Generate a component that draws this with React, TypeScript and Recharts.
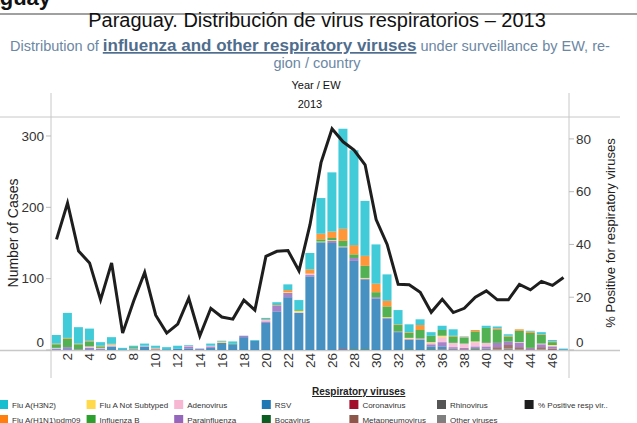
import { ComposedChart, XAxis, YAxis, Bar, Line } from "recharts"

// epidemiological weeks 1..47 of 2013
const weeks = Array.from({ length: 47 }, (_, i) => i + 1)

// cases per week, by virus
const h3n2 = [12, 35, 23, 17, 5, 9, 2, 2, 3, 3, 3, 4, 1, 0, 3, 1, 3, 0, 1, 2, 4, 8, 14, 23, 50, 83, 140, 133, 77, 55, 37, 20, 11, 8, 5, 6, 9, 1, 0, 3, 3, 2, 0, 1, 3, 2, 1]
const h1n1 = [1, 1, 1, 1, 1, 0, 0, 0, 0, 1, 0, 0, 0, 0, 0, 1, 0, 0, 0, 1, 1, 3, 0, 6, 8, 9, 17, 13, 14, 12, 8, 1, 1, 7, 0, 0, 1, 1, 2, 0, 2, 1, 2, 2, 1, 1, 0]
const notSubtyped = [0, 0, 0, 0, 0, 1, 0, 0, 0, 0, 0, 0, 0, 0, 0, 1, 0, 0, 0, 0, 0, 1, 2, 0, 1, 1, 0, 0, 1, 0, 1, 0, 1, 0, 1, 2, 0, 0, 1, 0, 0, 0, 0, 0, 0, 1, 0]
const fluB = [5, 12, 7, 7, 2, 1, 0, 2, 0, 0, 0, 0, 0, 0, 0, 0, 1, 0, 0, 0, 0, 0, 1, 0, 3, 3, 8, 5, 17, 7, 15, 9, 7, 12, 9, 8, 9, 8, 14, 21, 18, 7, 16, 21, 12, 4, 0]
const adeno = [1, 0, 0, 2, 1, 2, 0, 1, 1, 1, 0, 0, 1, 0, 1, 0, 0, 0, 0, 2, 0, 0, 1, 2, 0, 0, 1, 0, 0, 0, 0, 0, 1, 1, 2, 7, 6, 6, 6, 5, 0, 0, 1, 0, 1, 1, 0]
const parainfluenza = [1, 3, 1, 2, 1, 0, 0, 0, 0, 0, 0, 0, 3, 1, 2, 0, 0, 2, 0, 2, 8, 6, 0, 2, 0, 3, 0, 4, 1, 2, 1, 1, 1, 1, 3, 6, 2, 2, 2, 3, 6, 5, 6, 2, 4, 3, 0]
const rsv = [1, 1, 0, 1, 1, 5, 1, 1, 5, 1, 1, 2, 2, 1, 3, 10, 8, 18, 13, 38, 54, 74, 52, 103, 151, 150, 143, 124, 98, 72, 44, 25, 13, 14, 4, 4, 1, 0, 1, 1, 0, 0, 0, 0, 0, 0, 1]
const bocavirus = [0, 0, 0, 0, 0, 0, 0, 0, 0, 0, 0, 0, 0, 0, 0, 0, 0, 0, 0, 0, 0, 0, 0, 0, 0, 0, 0, 1, 1, 0, 0, 0, 1, 0, 1, 0, 0, 0, 1, 0, 0, 0, 0, 0, 0, 0, 0]
const coronavirus = [0, 0, 0, 0, 0, 0, 0, 0, 0, 0, 0, 0, 0, 0, 0, 0, 0, 0, 0, 0, 0, 0, 0, 0, 0, 0, 1, 0, 0, 0, 0, 0, 0, 0, 0, 0, 0, 0, 0, 0, 0, 0, 0, 0, 0, 0, 0]
const metapneumo = [0, 0, 0, 0, 0, 0, 0, 0, 0, 0, 0, 0, 0, 0, 0, 0, 0, 0, 0, 0, 0, 0, 0, 0, 0, 0, 0, 0, 0, 0, 0, 0, 0, 0, 0, 1, 1, 1, 1, 1, 3, 5, 3, 1, 3, 2, 0]
const rhinovirus = [0, 0, 0, 0, 0, 0, 0, 0, 0, 0, 0, 0, 0, 0, 0, 0, 0, 0, 0, 0, 0, 0, 0, 0, 0, 0, 0, 0, 0, 0, 0, 0, 0, 0, 0, 0, 0, 0, 0, 0, 0, 0, 0, 0, 0, 0, 0]
const otherViruses = [0, 0, 0, 0, 0, 0, 0, 0, 0, 0, 0, 0, 0, 0, 0, 0, 0, 0, 0, 0, 0, 0, 0, 0, 0, 0, 0, 0, 0, 0, 0, 0, 0, 0, 0, 0, 0, 0, 0, 0, 1, 2, 1, 0, 1, 0, 0]

// % positive for respiratory viruses
const pctPositive = [41.9, 55.7, 37.5, 33, 19, 33, 6.4, 18.6, 29.4, 13.2, 6.4, 9.8, 19.6, 5.3, 15.8, 12.5, 11.7, 18.9, 15.1, 35.5, 37.4, 37.7, 30, 47.5, 71, 83.8, 78.9, 75.8, 70.2, 49.4, 40, 24.9, 24.7, 21.9, 14.3, 19.2, 14.2, 15.8, 20, 22.4, 19, 19, 24.9, 22.8, 26, 24.5, 27.5]

const casesTicks = [0, 100, 200, 300]
const pctTicks = [0, 20, 40, 60, 80]

// stacking order, bottom first
const series = [
    { key: "other", name: "Other viruses", color: "#7f7f7f", values: otherViruses },
    { key: "rhino", name: "Rhinovirus", color: "#555555", values: rhinovirus },
    { key: "metap", name: "Metapneumovirus", color: "#8c564b", values: metapneumo },
    { key: "corona", name: "Coronavirus", color: "#a10d2a", values: coronavirus },
    { key: "boca", name: "Bocavirus", color: "#0b5e22", values: bocavirus },
    { key: "rsv", name: "RSV", color: "#1f77b4", values: rsv },
    { key: "para", name: "Parainfluenza", color: "#9467bd", values: parainfluenza },
    { key: "adeno", name: "Adenovirus", color: "#f7b6d2", values: adeno },
    { key: "notsub", name: "Flu A Not Subtyped", color: "#ffd94a", values: notSubtyped },
    { key: "flub", name: "Influenza B", color: "#2ca02c", values: fluB },
    { key: "h1n1", name: "Flu A(H1N1)pdm09", color: "#ff7f0e", values: h1n1 },
    { key: "h3n2", name: "Flu A(H3N2)", color: "#17becf", values: h3n2 },
]

const data = weeks.map((w, i) => {
    const row: any = { week: w, pct: pctPositive[i] }
    series.forEach((s) => { row[s.key] = s.values[i] })
    return row
})

// legend grid as in the dashboard (columns of two)
const legendCols = [
    ["h3n2", "h1n1"],
    ["notsub", "flub"],
    ["adeno", "para"],
    ["rsv", "boca"],
    ["corona", "metap"],
    ["rhino", "other"],
]

const font = "'Liberation Sans', Arial, sans-serif"
const gridGray = "#c8c8c8"

const LeftTick = ({ x, y, payload }: any) => (
    <text x={x} y={payload.value === 0 ? y - 8 : y} dy="0.35em" textAnchor="end" fontSize={13.5} fill="#333" fontFamily={font}>
        {payload.value}
    </text>
)

const RightTick = ({ x, y, payload }: any) => (
    <text x={x} y={payload.value === 0 ? y - 8 : y} dy="0.35em" textAnchor="start" fontSize={13.5} fill="#333" fontFamily={font}>
        {payload.value}
    </text>
)

const WeekTick = ({ x, y, payload }: any) => {
    if (payload.value % 2 !== 0) return null
    return (
        <g transform={`translate(${x},${y})`}>
            <text transform="rotate(-90)" textAnchor="end" dy="0.35em" fontSize={13.5} fill="#333" fontFamily={font}>
                {payload.value}
            </text>
        </g>
    )
}

const Decorations = () => {
    const byKey: any = {}
    series.forEach((s) => { byKey[s.key] = s })
    return (
        <svg width={637} height={423} style={{ position: "absolute", left: 0, top: 0 }} fontFamily={font}>
            <text x={-48} y={5} fontSize={22} fontWeight="bold" fill="#111">Paraguay</text>
            <rect x={0} y={13} width={637} height={2} fill="#a0a0a0" />
            <text x={317} y={27} textAnchor="middle" fontSize={20} fill="#111">
                Paraguay. Distribución de virus respiratorios – 2013
            </text>
            <text x={310} y={51} textAnchor="middle" fontSize={14.5} fill="#6b87a4">
                Distribution of{" "}
                <tspan fontWeight="bold" fontSize={17} fill="#4f6d8d" textDecoration="underline">influenza and other respiratory viruses</tspan>
                {" "}under surveillance by EW, re-
            </text>
            <text x={317} y={68} textAnchor="middle" fontSize={14.5} fill="#6b87a4">gion / country</text>
            <text x={316} y={89} textAnchor="middle" fontSize={11} fill="#111">Year  /  EW</text>
            <text x={310} y={108} textAnchor="middle" fontSize={11} fill="#111">2013</text>

            <line x1={0} x2={620} y1={117} y2={117} stroke={gridGray} />
            <line x1={0} x2={620} y1={350.5} y2={350.5} stroke={gridGray} strokeWidth={1.5} />
            <line x1={51} x2={51} y1={93} y2={378} stroke={gridGray} />
            <line x1={569} x2={569} y1={93} y2={378} stroke={gridGray} />

            <text transform="translate(18,233) rotate(-90)" textAnchor="middle" fontSize={14} fill="#222">Number of Cases</text>
            <text transform="translate(615,233) rotate(-90)" textAnchor="middle" fontSize={13} fill="#222">% Positive for respiratory viruses</text>

            <text x={312} y={395} fontSize={10} fontWeight="bold" fill="#222" textDecoration="underline">Respiratory viruses</text>
            {legendCols.map((col, ci) =>
                col.map((k, ri) => (
                    <g key={k}>
                        <rect x={-1 + ci * 87.6} y={400 + ri * 15} width={9} height={9} fill={byKey[k].color} />
                        <text x={12 + ci * 87.6} y={407.5 + ri * 15} fontSize={8} fill="#333">{byKey[k].name}</text>
                    </g>
                ))
            )}
            <rect x={524.6} y={400} width={9} height={9} fill="#1e1e1e" />
            <text x={538} y={407.5} fontSize={8} fill="#333">% Positive resp vir..</text>
        </svg>
    )
}

export default function App() {
    return (
        <div style={{ position: "absolute", left: 0, top: 0, width: 637, height: 423, overflow: "hidden", background: "#fff", fontFamily: font }}>
            <Decorations />
            <div style={{ position: "absolute", left: 0, top: 0 }}>
                <ComposedChart width={637} height={423} data={data} margin={{ top: 117, right: 0, bottom: 0, left: 0 }} barCategoryGap="8%">
                    <XAxis dataKey="week" interval={0} height={73} axisLine={false} tickLine={false} tickSize={0} tickMargin={3} tick={<WeekTick />} />
                    <YAxis yAxisId="left" width={51} domain={[0, 326.6]} allowDataOverflow ticks={casesTicks} axisLine={false} tickLine={{ stroke: "#bbb" }} tickSize={5} tickMargin={2} tick={<LeftTick />} />
                    <YAxis yAxisId="right" orientation="right" width={68} domain={[0, 88.3]} allowDataOverflow ticks={pctTicks} axisLine={false} tickLine={{ stroke: "#bbb" }} tickSize={5} tickMargin={2} tick={<RightTick />} />
                    {series.map((s) => (
                        <Bar key={s.key} yAxisId="left" dataKey={s.key} name={s.name} stackId="cases" fill={s.color} fillOpacity={0.82} isAnimationActive={false} />
                    ))}
                    <Line yAxisId="right" dataKey="pct" type="linear" stroke="#1e1e1e" strokeWidth={3} dot={false} isAnimationActive={false} />
                </ComposedChart>
            </div>
        </div>
    )
}
